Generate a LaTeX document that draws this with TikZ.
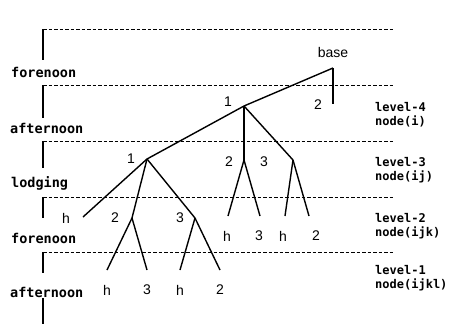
\documentclass[tikz,border=0pt]{standalone}
\usepackage{fontspec}
\setmonofont{DejaVu Sans Mono}
\setsansfont{Liberation Sans}
\usetikzlibrary{positioning}

\begin{document}
\begin{tikzpicture}[
    x=1pt, y=-1pt,
    br/.style={line width=1.4pt},
    sep/.style={dashed, dash pattern=on 3.5pt off 2pt, line width=1pt},
    tick/.style={line width=1.5pt},
    period/.style={font=\ttfamily\bfseries\fontsize{13.5}{14}\selectfont, inner sep=0pt},
    lvl/.style={font=\ttfamily\bfseries\fontsize{12}{14}\selectfont, inner sep=0pt, align=left, anchor=west},
    lab/.style={font=\sffamily\fontsize{14}{14}\selectfont, inner sep=0pt}
]
\useasboundingbox (0,0) rectangle (454,324);

% time bands
\foreach \y in {29,85,141,197,252}
    \draw[sep] (43,\y) -- (394,\y);
\foreach \a/\b in {29/60,85/118,141/168,197/218,252/273,298/324}
    \draw[tick] (43,\a) -- (43,\b);

\node[period, anchor=west] (fore1) at (11,72) {forenoon};
\node[period, anchor=west] (aft1) at (10,128) {afternoon};
\node[period, anchor=west] (lodg) at (11,183) {lodging};
\node[period, anchor=west] (fore2) at (11,238) {forenoon};
\node[period, anchor=west] (aft2) at (10,292) {afternoon};

% level labels
\node[lvl] (l4) at (375,115) {level-4\\node(i)};
\node[lvl] (l3) at (375,170) {level-3\\node(ij)};
\node[lvl] (l2) at (375,226) {level-2\\node(ijk)};
\node[lvl] (l1) at (375,278) {level-1\\node(ijkl)};

% tree points
\coordinate (base) at (333,68);
\coordinate (b2) at (333,104);
\coordinate (n1) at (244,106);
\coordinate (n12) at (244,160);
\coordinate (n13) at (293,160);
\coordinate (n11) at (147,159);
\coordinate (n11h) at (83,217);
\coordinate (n112) at (132,218);
\coordinate (n113) at (195,218);
\coordinate (e121) at (228,216);
\coordinate (e122) at (260,216);
\coordinate (e131) at (285,216);
\coordinate (e132) at (309,216);
\coordinate (e1121) at (107,270);
\coordinate (e1122) at (147,270);
\coordinate (e1131) at (180,270);
\coordinate (e1132) at (220,270);

\draw[br] (base) -- (b2);
\draw[br] (base) -- (n1);
\draw[br] (n1) -- (n11);
\draw[br] (n1) -- (n12);
\draw[br] (n1) -- (n13);
\draw[br] (n12) -- (e121);
\draw[br] (n12) -- (e122);
\draw[br] (n13) -- (e131);
\draw[br] (n13) -- (e132);
\draw[br] (n11) -- (n11h);
\draw[br] (n11) -- (n112);
\draw[br] (n11) -- (n113);
\draw[br] (n112) -- (e1121);
\draw[br] (n112) -- (e1122);
\draw[br] (n113) -- (e1131);
\draw[br] (n113) -- (e1132);

% labels
\node[lab] (tbase) at (333,52) {base};
\node[lab] (t2) at (318,105) {2};
\node[lab] (t1) at (228,102) {1};
\node[lab] (t12) at (229,162) {2};
\node[lab] (t13) at (264,162) {3};
\node[lab] (t11) at (131,159) {1};
\node[lab] (th) at (66,218) {h};
\node[lab] (t112) at (115,218) {2};
\node[lab] (t113) at (180,218) {3};
\node[lab] (h121) at (227,236) {h};
\node[lab] (h122) at (259,236) {3};
\node[lab] (h131) at (283,236) {h};
\node[lab] (h132) at (316,236) {2};
\node[lab] (h1121) at (107,290) {h};
\node[lab] (h1122) at (147,290) {3};
\node[lab] (h1131) at (180,290) {h};
\node[lab] (h1132) at (220,290) {2};
\end{tikzpicture}
\end{document}
